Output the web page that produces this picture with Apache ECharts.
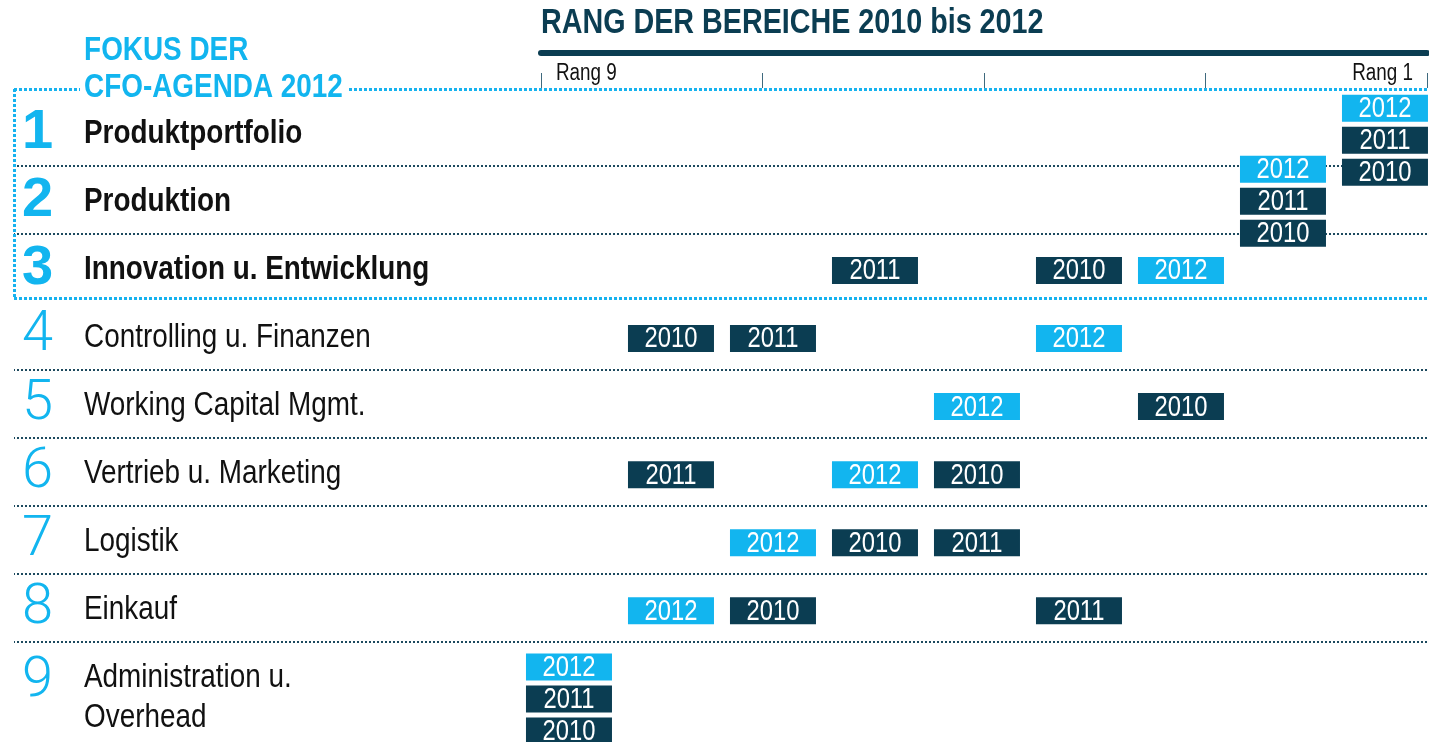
<!DOCTYPE html>
<html><head><meta charset="utf-8">
<script src="https://cdn.jsdelivr.net/npm/echarts@6/dist/echarts.min.js"></script>
<style>html,body{margin:0;padding:0;background:#fff}#c{width:1429px;height:742px}</style>
</head><body><div id="c"></div>
<script>
// ---------- data ----------
const categories = ['Produktportfolio', 'Produktion', 'Innovation u. Entwicklung', 'Controlling u. Finanzen',
  'Working Capital Mgmt.', 'Vertrieb u. Marketing', 'Logistik', 'Einkauf', 'Administration u.\nOverhead'];
const years = ['2012', '2011', '2010'];
const rank2012 = [1, 2, 3, 4, 5, 6, 7, 8, 9];
const rank2011 = [1, 2, 6, 7, null, 8, 5, 4, 9];
const rank2010 = [1, 2, 4, 8, 3, 5, 6, 7, 9];
const tickLabels = ['Rang 9', '', '', '', 'Rang 1'];
const focusRows = 3;
const titleText = 'RANG DER BEREICHE 2010 bis 2012';
const focusTitle = 'FOKUS DER\nCFO-AGENDA 2012';

// ---------- style / layout ----------
const SANS = "'Liberation Sans',Arial,sans-serif";
const NARROW_SCALE = 0.82;          // Liberation Sans squeezed like Arial Narrow
const LIGHT_BLUE = '#12b5ef', DARK = '#0b3d52', SEP = '#1d4a5e', FRAME = '#17b2ee';
const BOX_W = 86, BOX_H = 27, STACK_GAP = 32;
const stackShift = [9, 2, 3, 3, 3, 3, 3, 3, 23];
const X_MIN = 0.588, X_MAX = 14.441, Y_MIN = 0.38, Y_MAX = 9.5;

function narrowText(x, y, text, font, fill, align, extra) {
  return Object.assign({ type: 'text', x: x, y: y, scaleX: NARROW_SCALE,
    style: Object.assign({ text: text, font: font, fill: fill, align: align, verticalAlign: 'middle' }, extra || {}) });
}

const yearRanks = [rank2012, rank2011, rank2010];
const boxData = [];
categories.forEach((c, row) => {
  const groups = {};
  yearRanks.forEach((arr, yi) => {
    const r = arr[row];
    if (r == null) return;
    (groups[r] = groups[r] || []).push(yi);
  });
  Object.keys(groups).forEach(r => {
    const g = groups[r];
    g.forEach((yi, k) => boxData.push({ value: [+r, row + 1, yi, k, g.length] }));
  });
});

function renderBox(params, api) {
  const p = api.coord([api.value(0), api.value(1)]);
  const yi = api.value(2), k = api.value(3), n = api.value(4), row = api.value(1) - 1;
  const cy = p[1] + stackShift[row] + (k - (n - 1) / 2) * STACK_GAP;
  return { type: 'group', children: [
    { type: 'rect', shape: { x: p[0] - BOX_W / 2, y: cy - BOX_H / 2, width: BOX_W, height: BOX_H },
      style: { fill: yi === 0 ? LIGHT_BLUE : DARK } },
    narrowText(p[0], cy + 1, years[yi], '29px ' + SANS, '#fff', 'center')
  ] };
}

function renderLabel(params, api) {
  const row = api.value(1);
  const p = api.coord([api.value(0), row]);
  const bold = row <= focusRows;
  const cy = p[1];
  return { type: 'group', children: [
    { type: 'text', x: 22, y: cy + (row === 9 ? 6 : 1),
      style: { text: String(row), fill: LIGHT_BLUE,
        font: bold ? ('bold 56px ' + SANS) : "300 56px Roboto,'Open Sans',sans-serif",
        align: 'left', verticalAlign: 'middle' } },
    narrowText(84, cy + 2, categories[row - 1], (bold ? 'bold ' : '') + '34px ' + SANS, '#111', 'left',
      { verticalAlign: 'top', lineHeight: 40, y: undefined }),
  ].map((el, i) => { if (i === 1) { el.y = cy + 2 - 20; } return el; }) };
}

function renderTick(params, api) {
  const i = api.value(0);
  const p = api.coord([i, 0]);
  const last = i === tickLabels.length - 1;
  return narrowText(last ? p[0] - 14 : p[0] + 15, p[1] - 14.5, tickLabels[i], '23px ' + SANS, '#111',
    last ? 'right' : 'left');
}

const sepLine = { color: SEP, width: 2, type: [2, 2] };
const frameLine = { color: FRAME, width: 3, type: [3, 2] };
const markData = [];
for (let i = 1; i < categories.length; i++) {
  if (i === focusRows) continue;
  markData.push({ yAxis: i + 0.5, lineStyle: sepLine });
}
markData.push({ yAxis: focusRows + 0.45, lineStyle: frameLine });
markData.push({ yAxis: Y_MIN, lineStyle: frameLine });
markData.push([{ coord: [X_MAX, Y_MIN], lineStyle: frameLine }, { coord: [X_MAX, focusRows + 0.45] }]);

const chart = echarts.init(document.getElementById('c'), null, { renderer: 'canvas' });
chart.setOption({
  animation: false,
  backgroundColor: '#fff',
  graphic: [
    narrowText(541, 23, titleText, 'bold 35px ' + SANS, DARK, 'left', { }),
    Object.assign(narrowText(80, 69.5, focusTitle, 'bold 34px ' + SANS, LIGHT_BLUE, 'left',
      { lineHeight: 37, backgroundColor: '#fff', padding: [0, 6, 0, 5] }), { z: 100 })
  ],
  grid: [
    { left: 14, right: 2, top: 89, bottom: 32 },
    { left: 541, right: 2, top: 53, height: 35 }
  ],
  xAxis: [
    { gridIndex: 0, type: 'value', min: X_MIN, max: X_MAX, inverse: true, show: false },
    { gridIndex: 1, type: 'value', min: 0, max: 4, interval: 1, position: 'bottom',
      axisLine: { show: false, onZero: false },
      axisTick: { show: true, inside: true, length: 15, lineStyle: { color: '#3f6a7e', width: 1 } },
      splitLine: { show: false }, axisLabel: { show: false } },
    { gridIndex: 1, type: 'value', min: 0, max: 4, position: 'top',
      axisLine: { show: true, onZero: false, lineStyle: { color: DARK, width: 6 } },
      axisTick: { show: false }, axisLabel: { show: false }, splitLine: { show: false } }
  ],
  yAxis: [
    { gridIndex: 0, type: 'value', min: Y_MIN, max: Y_MAX, inverse: true, show: false },
    { gridIndex: 1, type: 'value', min: 0, max: 1, show: false }
  ],
  series: [
    { type: 'custom', name: 'rows', xAxisIndex: 0, yAxisIndex: 0, z: 2, silent: true,
      renderItem: renderLabel,
      data: categories.map((c, i) => ({ value: [X_MAX - 1, i + 1] })),
      markLine: { silent: true, symbol: 'none', label: { show: false }, animation: false, data: markData } },
    { type: 'custom', name: 'ticks', xAxisIndex: 1, yAxisIndex: 1, z: 3, silent: true,
      renderItem: renderTick,
      data: tickLabels.map((t, i) => ({ value: [i, 0] })).filter((d, i) => tickLabels[i]) },
    { type: 'custom', name: 'boxes', xAxisIndex: 0, yAxisIndex: 0, z: 5, silent: true,
      renderItem: renderBox, data: boxData }
  ]
});
</script></body></html>
